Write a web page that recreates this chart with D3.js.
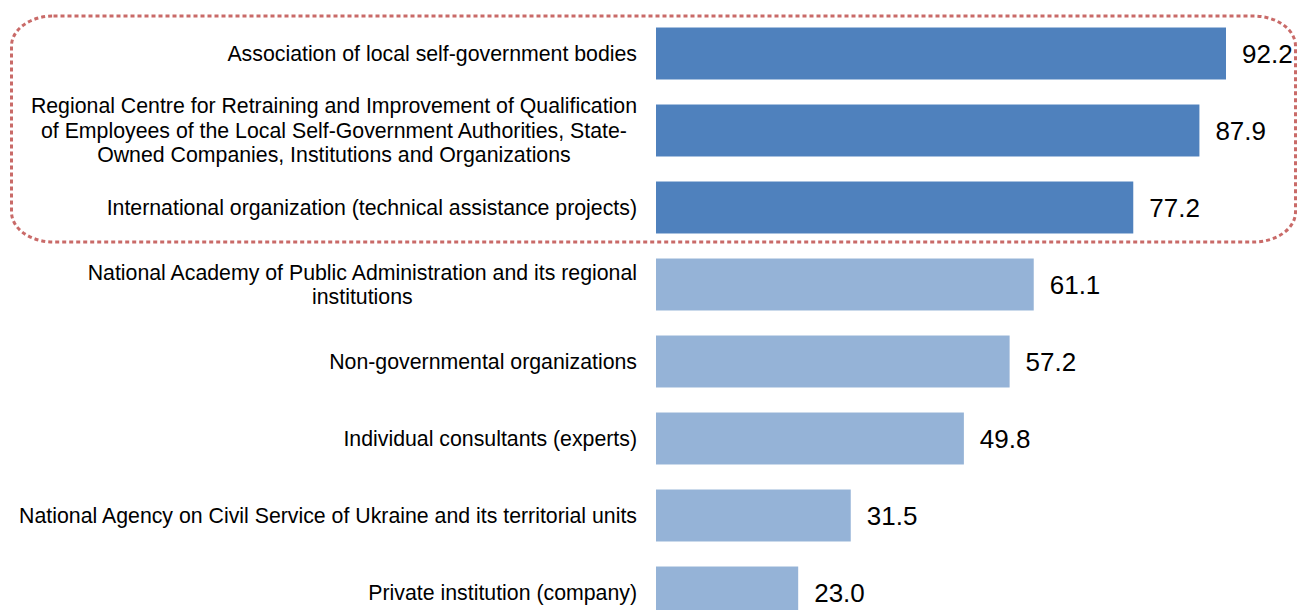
<!DOCTYPE html>
<meta charset="utf-8">
<html>
  <head>
    <title>Training providers</title>
    <style>
      body { margin: 0; background: #fff; font-family: "Liberation Sans", Arial, sans-serif; }
    </style>
  </head>
  <body>
    <div id="barchart"></div>
    <script src="https://d3js.org/d3.v7.min.js"></script>
    <script>

      // data
      const labels = [
        ["Association of local self-government bodies"],
        ["Regional Centre for Retraining and Improvement of Qualification",
         "of Employees of the Local Self-Government Authorities, State-",
         "Owned Companies, Institutions and Organizations"],
        ["International organization (technical assistance projects)"],
        ["National Academy of Public Administration and its regional", "institutions"],
        ["Non-governmental organizations"],
        ["Individual consultants (experts)"],
        ["National Agency on Civil Service of Ukraine and its territorial units"],
        ["Private institution (company)"]
      ];
      const values = [92.2, 87.9, 77.2, 61.1, 57.2, 49.8, 31.5, 23.0];
      const highlighted = [true, true, true, false, false, false, false, false];

      const width = 1298, height = 610;

      const svg = d3.select("#barchart")
        .append("svg")
          .attr("width", width)
          .attr("height", height);

      // scales
      const xScale = d3.scaleLinear()
        .domain([0, 92.2])
        .range([656, 1226]);

      const yScale = d3.scaleBand()
        .domain(d3.range(values.length))
        .range([15, 631])
        .paddingInner(0.325)
        .paddingOuter(0.1625);

      // bars
      svg.selectAll("rect.bar")
        .data(values)
        .join("rect")
          .attr("class", "bar")
          .attr("x", xScale(0))
          .attr("y", (d, i) => yScale(i))
          .attr("width", d => xScale(d) - xScale(0))
          .attr("height", yScale.bandwidth())
          .style("fill", (d, i) => highlighted[i] ? "#4F81BD" : "#95B3D7");

      // value labels
      svg.selectAll("text.value")
        .data(values)
        .join("text")
          .attr("class", "value")
          .attr("x", d => xScale(d) + 16)
          .attr("y", (d, i) => yScale(i) + yScale.bandwidth() / 2)
          .attr("dy", "0.36em")
          .style("font-size", "26px")
          .text(d => d.toFixed(1));

      // category labels: single lines right aligned, wrapped ones centred
      const lineH = 24.5;
      const labelRight = 637;
      const cat = svg.selectAll("text.cat")
        .data(labels)
        .join("text")
          .attr("class", "cat")
          .style("font-size", "21.3px")
          .attr("transform", (d, i) =>
            `translate(0, ${yScale(i) + yScale.bandwidth() / 2 - (d.length - 1) * lineH / 2})`);

      cat.selectAll("tspan")
        .data(d => d)
        .join("tspan")
          .attr("y", (d, j) => j * lineH)
          .attr("dy", "0.35em")
          .text(d => d);

      cat.each(function(d) {
        const spans = d3.select(this).selectAll("tspan");
        if (d.length === 1) {
          spans.attr("x", labelRight).attr("text-anchor", "end");
        } else {
          const maxW = d3.max(spans.nodes(), n => n.getComputedTextLength());
          spans.attr("x", labelRight - maxW / 2).attr("text-anchor", "middle");
        }
      });

      // dotted highlight frame round the top three
      svg.append("rect")
        .attr("x", 11.5)
        .attr("y", 16)
        .attr("width", 1284)
        .attr("height", 226)
        .attr("rx", 42)
        .attr("ry", 30)
        .style("fill", "none")
        .style("stroke", "#C0504D")
        .style("stroke-width", 3)
        .style("stroke-dasharray", "4,3")
        .style("opacity", 0.85);

    </script>
  </body>
</html>
